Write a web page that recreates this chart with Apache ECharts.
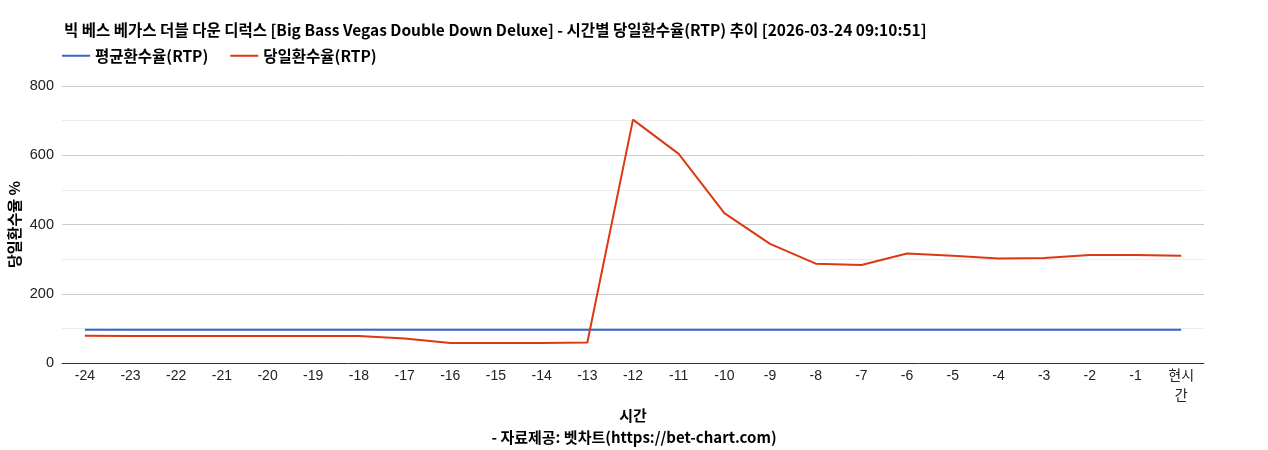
<!DOCTYPE html>
<html>
<head>
<meta charset="utf-8">
<script src="https://cdn.jsdelivr.net/npm/echarts@6/dist/echarts.min.js"></script>
<style>
  html, body { margin: 0; padding: 0; background: #fff; }
  #main { width: 1268px; height: 450px; }
</style>
</head>
<body>
<div id="main"></div>
<script>
var hours = ['-24','-23','-22','-21','-20','-19','-18','-17','-16','-15','-14','-13',
  '-12','-11','-10','-9','-8','-7','-6','-5','-4','-3','-2','-1','현시간'];
var avgRtp = [96,96,96,96,96,96,96,96,96,96,96,96,96,96,96,96,96,96,96,96,96,96,96,96,96];
var dayRtp = [79,78,78,78,78,78,78,71,58,58,58,59,703,604,433,344,287,283,316,310,302,303,312,312,310];

var cjk = '"Noto Sans CJK KR", sans-serif';
var chart = echarts.init(document.getElementById('main'));
chart.setOption({
  animation: false,
  title: [{
    text: '빅 베스 베가스 더블 다운 디럭스 [Big Bass Vegas Double Down Deluxe] - 시간별 당일환수율(RTP) 추이 [2026-03-24 09:10:51]',
    left: 59, top: 17,
    textStyle: { fontFamily: cjk, fontSize: 15.5, fontWeight: 'bold', color: '#000' }
  }, {
    text: '- 자료제공: 벳차트(https://bet-chart.com)',
    left: 'center', top: 425,
    textStyle: { fontFamily: cjk, fontSize: 15, fontWeight: 'bold', color: '#000' }
  }],
  legend: {
    left: 57, top: 43,
    itemWidth: 28, itemHeight: 2, itemGap: 22,
    icon: 'rect',
    textStyle: { fontFamily: cjk, fontSize: 15.5, fontWeight: 'bold', color: '#000' },
    data: ['평균환수율(RTP)', '당일환수율(RTP)']
  },
  grid: { left: 62, right: 64, top: 86, bottom: 87, outerBoundsMode: 'none' },
  xAxis: {
    type: 'category',
    data: hours,
    name: '시간',
    nameLocation: 'middle',
    nameGap: 45,
    nameMoveOverlap: false,
    nameTextStyle: { fontFamily: cjk, fontSize: 15, fontWeight: 'bold', color: '#000' },
    axisLine: { lineStyle: { color: '#333' } },
    axisTick: { show: false },
    axisLabel: {
      interval: 0, margin: 3,
      fontFamily: 'Arial, "Liberation Sans", "Noto Sans CJK KR"', fontSize: 14, color: '#222',
      lineHeight: 20,
      formatter: function (v) { return v === '현시간' ? '현시\n간' : v; }
    }
  },
  yAxis: {
    type: 'value',
    min: 0, max: 800, interval: 100,
    name: '당일환수율 %',
    nameLocation: 'middle',
    nameGap: 40,
    nameRotate: 90,
    nameMoveOverlap: false,
    nameTextStyle: { fontFamily: cjk, fontSize: 15, fontWeight: 'bold', color: '#000' },
    axisLine: { show: false },
    axisTick: { show: false },
    axisLabel: {
      margin: 8,
      fontFamily: 'Arial, "Liberation Sans"', fontSize: 14.5, color: '#222',
      formatter: function (v) { return v % 200 === 0 ? v : ''; }
    },
    splitLine: { lineStyle: { color: ['#cccccc', '#ebebeb'], width: 1 } }
  },
  series: [{
    name: '평균환수율(RTP)',
    type: 'line',
    data: avgRtp,
    symbol: 'none',
    itemStyle: { color: '#3366cc' },
    lineStyle: { color: '#3366cc', width: 2 }
  }, {
    name: '당일환수율(RTP)',
    type: 'line',
    data: dayRtp,
    symbol: 'none',
    itemStyle: { color: '#dc3912' },
    lineStyle: { color: '#dc3912', width: 2 }
  }]
});
</script>
</body>
</html>
